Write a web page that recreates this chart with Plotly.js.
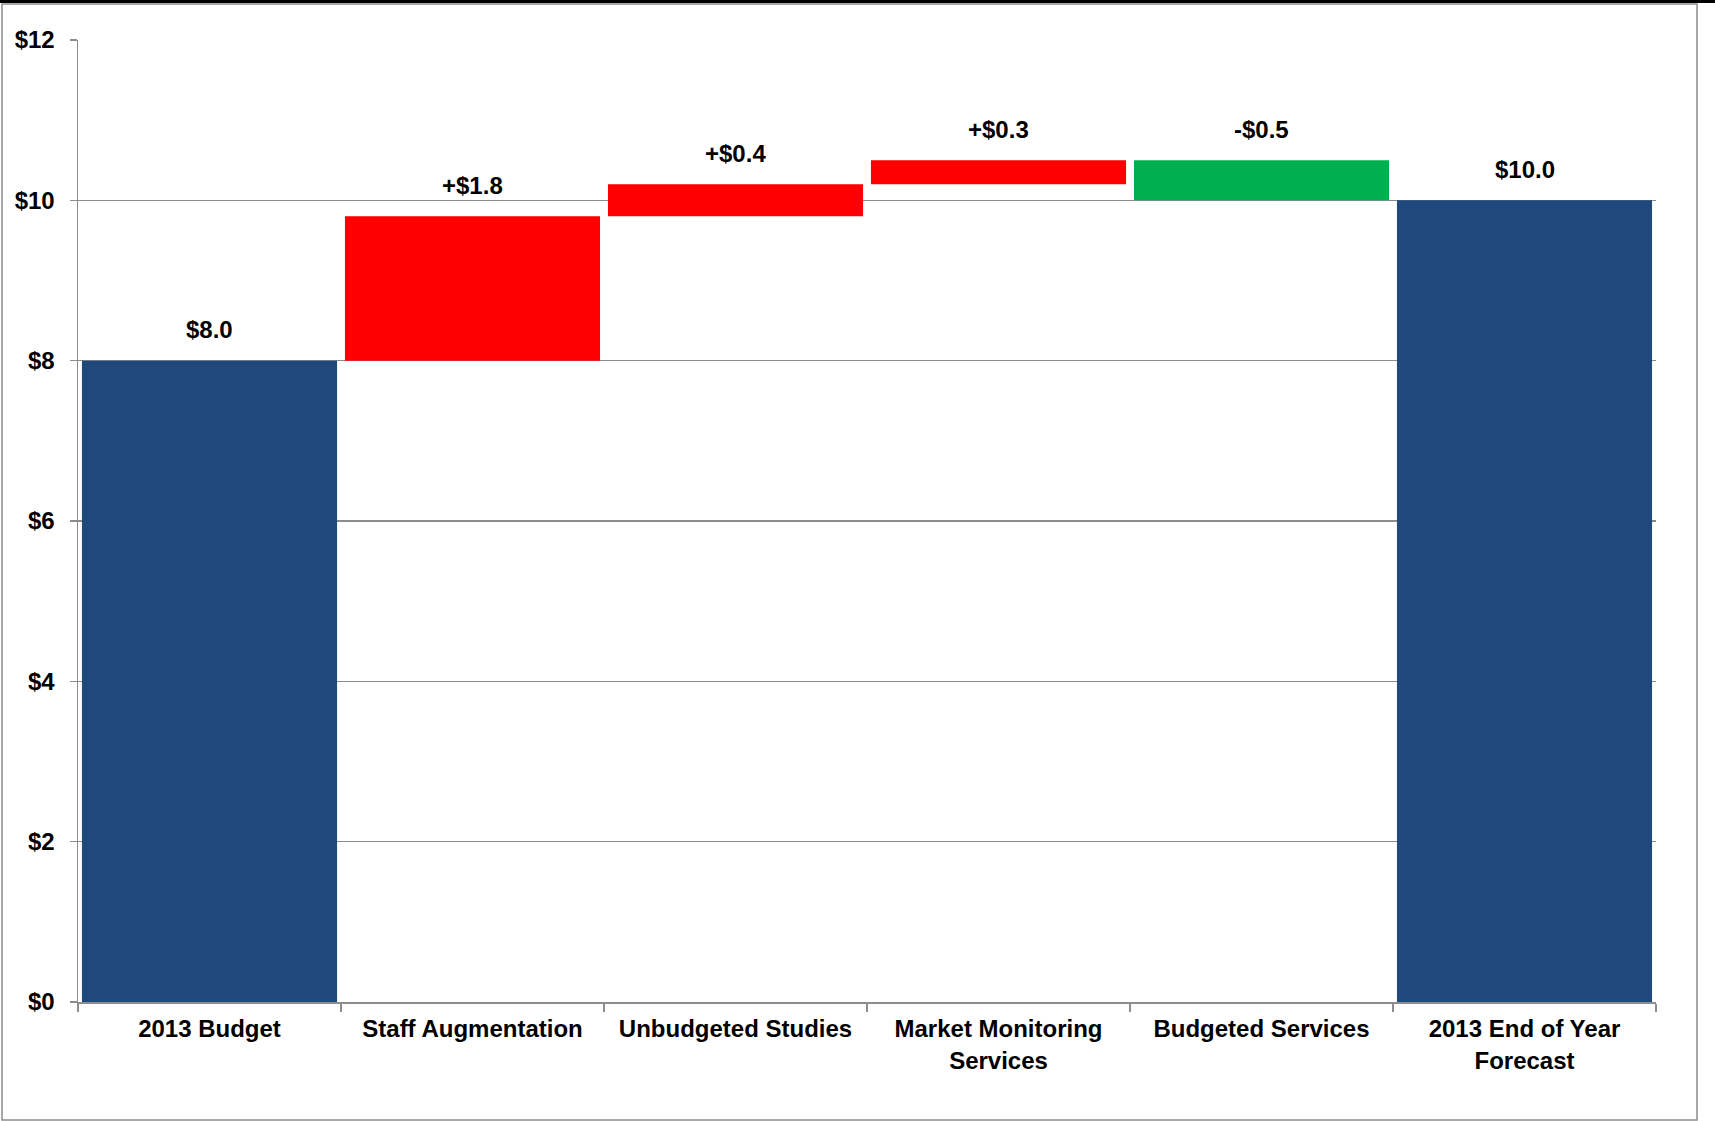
<!DOCTYPE html>
<html>
<head>
<meta charset="utf-8">
<script src="https://cdn.plot.ly/plotly-3.0.1.min.js"></script>
<style>
  html, body { margin: 0; padding: 0; background: #ffffff; }
  #chart { width: 1715px; height: 1121px; }
</style>
</head>
<body>
<div id="chart"></div>
<script>
// ---- data ----
const categories = ["2013 Budget", "Staff Augmentation", "Unbudgeted Studies",
                    "Market Monitoring<br>Services", "Budgeted Services",
                    "2013 End of Year<br>Forecast"];
const measures = ["absolute", "relative", "relative", "relative", "relative", "total"];
const values = [8.0, 1.8, 0.4, 0.3, -0.5, 0];
const labels = ["$8.0", "+$1.8", "+$0.4", "+$0.3", "-$0.5", "$10.0"];
const yTickValues = [0, 2, 4, 6, 8, 10, 12];
const yTickLabels = ["$0", "$2", "$4", "$6", "$8", "$10", "$12"];

// ---- geometry helpers (pixel -> paper) ----
const W = 1715, H = 1121;
const M = { l: 78, r: 59, t: 40, b: 119 };
const PW = W - M.l - M.r, PH = H - M.t - M.b;
const px = x => (x - M.l) / PW;
const py = y => (H - M.b - y) / PH;

// bar tops computed from the waterfall values
let running = 0;
const tops = [];
values.forEach((v, i) => {
  if (measures[i] === "absolute") { running = v; tops.push(v); }
  else if (measures[i] === "total") { tops.push(running); }
  else { const prev = running; running += v; tops.push(Math.max(prev, running)); }
});

const FONT = "Liberation Sans, Arial, sans-serif";
const FS = 24;

const trace = {
  type: "waterfall",
  x: categories,
  y: values,
  measure: measures,
  connector: { visible: false },
  increasing: { marker: { color: "#FF0000", line: { width: 0 } } },
  decreasing: { marker: { color: "#00B050", line: { width: 0 } } },
  totals: { marker: { color: "#1F497D", line: { width: 0 } } },
  hoverinfo: "skip",
  textinfo: "none"
};

const annotations = categories.map((c, i) => ({
  x: c, y: tops[i], xref: "x", yref: "y",
  text: labels[i], showarrow: false,
  yanchor: "middle", yshift: 31,
  font: { family: FONT, size: FS, color: "#000000", weight: "bold" }
}));

const gray = "#8c8c8c";
const layout = {
  width: W, height: H,
  margin: M,
  paper_bgcolor: "#ffffff",
  plot_bgcolor: "#ffffff",
  showlegend: false,
  waterfallgap: 0.03,
  font: { family: FONT, size: FS, color: "#000000", weight: "bold" },
  xaxis: {
    type: "category",
    showline: true, linecolor: gray, linewidth: 1.5,
    ticks: "outside", tickson: "boundaries", ticklen: 8, tickcolor: gray, tickwidth: 1.5,
    showgrid: false, zeroline: false,
    ticklabelstandoff: 5,
    tickfont: { family: FONT, size: FS, color: "#000000", weight: "bold" },
    fixedrange: true
  },
  yaxis: {
    range: [0, 12],
    tickmode: "array",
    tickvals: yTickValues,
    ticktext: yTickLabels,
    showline: true, linecolor: gray, linewidth: 1.5,
    ticks: "outside", ticklen: 7, tickcolor: gray, tickwidth: 1.5,
    showgrid: true, gridcolor: gray, gridwidth: 1.5,
    zeroline: false,
    ticklabelstandoff: 10,
    tickfont: { family: FONT, size: FS, color: "#000000", weight: "bold" },
    fixedrange: true
  },
  annotations: annotations,
  shapes: [
    { type: "rect", xref: "paper", yref: "paper", layer: "below",
      x0: px(2), x1: px(1697), y0: py(1120), y1: py(4),
      line: { color: "#8c8c8c", width: 1.5 }, fillcolor: "rgba(0,0,0,0)" },
    { type: "rect", xref: "paper", yref: "paper",
      x0: px(0), x1: px(W), y0: py(3), y1: py(0),
      line: { width: 0 }, fillcolor: "#000000" }
  ]
};

Plotly.newPlot("chart", [trace], layout, { displayModeBar: false, staticPlot: true });
</script>
</body>
</html>
